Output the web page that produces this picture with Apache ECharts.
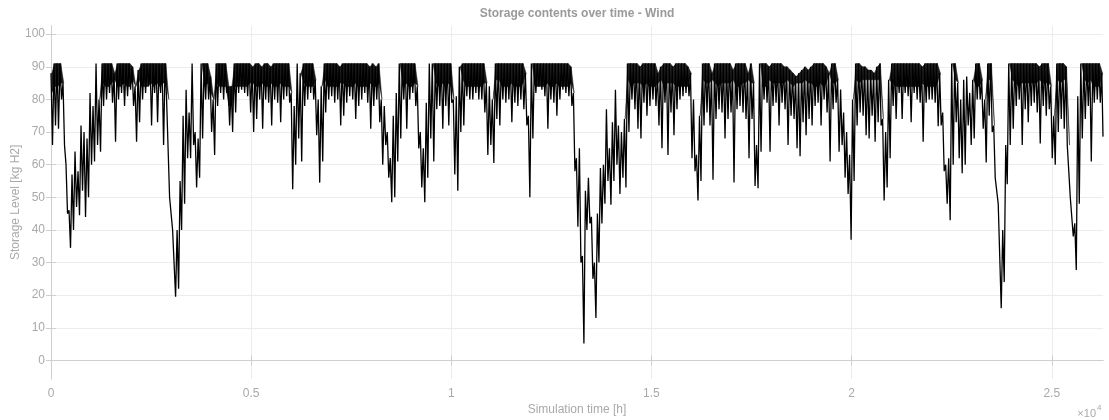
<!DOCTYPE html>
<html>
<head>
<meta charset="utf-8">
<title>Storage contents over time - Wind</title>
<script src="https://cdn.jsdelivr.net/npm/echarts@6/dist/echarts.min.js"></script>
<style>
  html, body { margin: 0; padding: 0; background: #fff; }
  #chart { width: 1109px; height: 420px; }
</style>
</head>
<body>
<div id="chart"></div>
<script>
// Hydrogen storage level, hourly simulation over three years.
// Each 75 h window is summarised by its highest and lowest level,
// plus the level down to which the hourly trace is densely packed
// (null where the trace is sparse, e.g. during long drawdowns).
const BIN_HOURS = 75;
const SIM_HOURS = 26280;

const binHigh = [
  88,91,91,91,85,60,46,57,64,58, 72,70,68,82,78,91,80,91,91,91,
  91,88,91,91,91,91,91,90,84,89, 91,91,91,91,91,91,91,91,91,80,
  50,40,40,55,75,83,76,91,70,68, 91,91,91,87,80,91,91,91,91,
  84,84,91,91,91,91,91,91,90,91, 91,90,91,91,90,91,91,91,91,91,
  91,82,78,91,88,91,91,91,91,86, 80,84,91,91,91,91,91,90,91,91,
  91,91,91,91,91,91,91,90,91,90, 91,80,78,70,62,75,82,91,
  91,91,91,91,91,84,70,65,79,91, 91,91,91,91,91,91,91,80,81,90,
  91,91,91,91,91,91,91,91,85,84, 80,91,91,91,91,91,91,91,91,91,
  91,88,75,91,91,91,91,91,91,91, 91,91,91,91,91,91,90,82,62,
  65,32,52,56,44,30,45,59,60,77, 65,73,83,72,70,74,91,91,91,91,
  90,91,91,91,91,91,88,90,91,91, 91,90,91,91,91,91,90,88,80,63,
  75,91,91,91,88,91,91,91,91,91, 91,89,91,91,91,91,88,91,85,
  66,91,91,91,90,91,91,91,91,90, 90,89,88,87,88,89,90,89,90,91,
  91,91,91,90,88,91,91,86,83,76, 70,63,80,91,91,90,90,89,89,88,
  90,91,74,70,86,91,91,91,91,91, 91,91,91,91,91,90,91,91,
  91,91,91,88,76,60,62,91,91,85, 80,86,87,82,86,91,91,86,80,91,
  91,72,56,48,40,66,91,91,91,91, 91,91,91,91,91,91,90,91,91,91,
  84,75,91,91,91,90,66,50,42,81, 91,91,91,91,91,91,91,88
];

const binLow = [
  66,72,71,80,66,45,34.5,40,47,44.5, 52,44,50,60,61,66,64,78,80,82,
  79,67,80,82,78,81,83,78,67,73, 80,82,84,72,82,73,82,66,80,50,
  40,19.5,22,40,48,62,62,66,53,56, 68,80,80,70,63,78,82,80,82,
  72,70,76,82,83,82,81,76,70,74, 80,71,80,79,72,80,79,73,80,81,
  79,52.5,60,68,61,78,80,82,80,69, 54.5,61,76,80,81,79,80,72,75,79,
  81,80,74,78,80,82,79,71,78,80, 73,60,66,56,48.5,50,61,68,
  80,71,80,82,78,65,53,48.5,56,68, 61,77,78,71,78,72,79,57,52,70,
  72,81,80,80,82,80,80,76,63,66, 60.5,74,72,80,79,80,73,79,78,80,
  77,72,50,68,82,84,83,81,71,80, 79,75,80,83,82,81,78,58,41,
  30,5.2,40,42,25,13,30,42,48,55, 47.7,55,60,51,56,53,70,80,77,71,
  68,79,75,78,80,78,72,65,79,63, 76,69,77,80,81,82,81,62,58,49,
  55,72,76,72,55.4,74,77,76,68,74, 76,54.5,77,78,76,74,62,74,53.5,
  52.8,64,80,79,64,78,79,72,79,77, 66,75,74,65,62.6,73,69,74,72,78,
  79,72,80,76,61,77,79,64,66,56, 51,37,55,72,76,75,69,68,75,67,
  73,72,49,53,62,78,74,82,74,82, 81,73,82,80,79,67,79,80,
  80,79,71.8,72,58,48,43,60,73,62, 57.4,60,72,66,68,80,80,71,60.7,75,
  70,56,48,16,24,54,66,71,78,80, 66,77,73,78,79,76,66.5,78,75,77,
  62,60,70,74,71,66,50,38,27.7,48, 68,74,78,61,79,80,79,68.6
];

const _ = null;
const denseFloor = [
  82,84,84,85,_,_,_,_,_,_, _,_,_,_,_,_,_,85,84,84,
  85,86,84,84,85,84,84,86,_,86, 84,84,84,85,84,85,84,85,85,_,
  _,_,_,_,_,_,_,_,_,_, _,84,85,82,_,85,84,84,84,
  78,78,84,84,84,84,84,85,85,84, 84,85,84,84,85,84,84,85,84,84,
  84,_,_,_,_,85,84,84,84,_, _,_,86,84,84,84,84,85,85,84,
  84,84,85,84,84,84,84,85,84,84, 85,_,_,_,_,_,_,_,
  84,85,84,84,85,_,_,_,_,_, _,85,84,85,84,85,84,_,_,_,
  86,84,84,84,84,84,84,85,_,_, _,86,86,84,84,84,85,84,84,84,
  85,_,_,_,84,84,84,84,85,84, 84,85,84,84,84,84,85,_,_,
  _,_,_,_,_,_,_,_,_,_, _,_,_,_,_,_,86,84,85,85,
  85,84,85,84,84,84,85,86,84,85, 85,85,84,84,84,84,84,_,_,_,
  _,86,85,85,86,85,84,85,85,85, 85,86,84,84,85,85,86,85,_,
  _,_,84,84,86,85,85,85,85,85, 86,85,84,85,85,85,86,85,85,84,
  84,85,84,85,_,85,85,_,_,_, _,_,_,86,85,86,86,86,86,86,
  86,86,_,_,_,85,84,84,84,84, 84,84,84,84,84,85,84,84,
  84,84,85,_,_,_,_,_,86,_, _,_,_,_,_,84,84,_,_,86,
  86,_,_,_,_,_,_,86,85,84, 85,85,85,85,85,85,86,85,85,85,
  _,_,86,85,86,86,_,_,_,_, _,86,85,86,84,84,84,_
];

const xTickValues = [0, 5000, 10000, 15000, 20000, 25000];
const yTickValues = [0, 10, 20, 30, 40, 50, 60, 70, 80, 90, 100];
const Y_MIN = -5.7;
const Y_MAX = 102.6;

// Trace: each window contributes its peak, then its trough half a window later.
const trace = [];
binHigh.forEach((hi, i) => {
  const t0 = i * BIN_HOURS;
  trace.push([t0, hi]);
  trace.push([Math.min(t0 + BIN_HOURS / 2, SIM_HOURS), binLow[i]]);
});

// Densely packed part of the trace, as quads between neighbouring windows:
// [tA, peakA, floorA, tB, peakB, floorB]
const bandSegments = [];
for (let i = 0; i < binHigh.length - 1; i++) {
  if (denseFloor[i] == null && denseFloor[i + 1] == null) continue;
  const tA = i * BIN_HOURS + BIN_HOURS / 4;
  const tB = Math.min((i + 1) * BIN_HOURS + BIN_HOURS / 4, SIM_HOURS);
  const fA = denseFloor[i] == null ? binHigh[i] : denseFloor[i];
  const fB = denseFloor[i + 1] == null ? binHigh[i + 1] : denseFloor[i + 1];
  bandSegments.push([tA, binHigh[i], fA, tB, binHigh[i + 1], fB]);
}

const FONT = '"Liberation Sans", Arial, Helvetica, sans-serif';
const BOX = '#cfcfcf';
const GRIDLINE = '#ececec';
const TEXT = '#a9a9a9';

function boxAxis(extra) {
  return Object.assign({
    type: 'value',
    axisLine: { show: true, lineStyle: { color: BOX, width: 1 } },
    axisTick: { show: true, inside: true, length: 5, lineStyle: { color: BOX } },
    axisLabel: { show: false },
    splitLine: { show: false }
  }, extra);
}

const chart = echarts.init(document.getElementById('chart'), null, { renderer: 'canvas' });

chart.setOption({
  animation: false,
  backgroundColor: '#fff',
  grid: { left: 51, right: 6, top: 25.7, bottom: 41, outerBoundsMode: 'none' },
  xAxis: [
    boxAxis({
      position: 'bottom',
      min: 0, max: SIM_HOURS,
      axisTick: { show: true, inside: true, length: 5, customValues: xTickValues, lineStyle: { color: BOX } },
      axisLabel: {
        show: true, customValues: xTickValues, margin: 9,
        color: TEXT, fontFamily: FONT, fontSize: 12,
        formatter: v => String(v / 10000)
      },
      splitLine: { show: true, lineStyle: { color: GRIDLINE, width: 1 } },
      name: 'Simulation time [h]',
      nameLocation: 'middle',
      nameGap: 25,
      nameMoveOverlap: false,
      nameTextStyle: { color: TEXT, fontFamily: FONT, fontSize: 12 }
    }),
    boxAxis({
      position: 'top',
      min: 0, max: SIM_HOURS,
      axisTick: { show: true, inside: true, length: 5, customValues: xTickValues, lineStyle: { color: BOX } }
    })
  ],
  yAxis: [
    boxAxis({
      position: 'left',
      min: Y_MIN, max: Y_MAX,
      axisTick: { show: true, inside: true, length: 5, customValues: yTickValues, lineStyle: { color: BOX } },
      axisLabel: {
        show: true, customValues: yTickValues, margin: 6,
        color: TEXT, fontFamily: FONT, fontSize: 12
      },
      splitLine: { show: true, lineStyle: { color: GRIDLINE, width: 1 } },
      name: 'Storage Level [kg H2]',
      nameLocation: 'middle',
      nameGap: 29,
      nameMoveOverlap: false,
      nameTextStyle: { color: TEXT, fontFamily: FONT, fontSize: 12 }
    }),
    boxAxis({
      position: 'right',
      min: Y_MIN, max: Y_MAX,
      axisTick: { show: true, inside: true, length: 5, customValues: yTickValues, lineStyle: { color: BOX } }
    })
  ],
  graphic: [
    {
      type: 'text', x: 577, y: 14,
      style: {
        text: 'Storage contents over time - Wind',
        fill: '#9a9a9a', font: 'bold 12px ' + FONT,
        align: 'center', verticalAlign: 'middle'
      }
    },
    {
      type: 'text', x: 1096, y: 414,
      style: { text: '×10', fill: TEXT, font: '11px ' + FONT, align: 'right', verticalAlign: 'middle' }
    },
    {
      type: 'text', x: 1097, y: 408,
      style: { text: '4', fill: TEXT, font: '8px ' + FONT, align: 'left', verticalAlign: 'middle' }
    }
  ],
  series: [
    {
      name: 'dense band',
      type: 'custom',
      data: bandSegments,
      encode: { x: [0, 3], y: [1, 2, 4, 5] },
      clip: true,
      silent: true,
      z: 1,
      renderItem: (params, api) => {
        const a1 = api.coord([api.value(0), api.value(1)]);
        const a2 = api.coord([api.value(0), api.value(2)]);
        const b1 = api.coord([api.value(3), api.value(4)]);
        const b2 = api.coord([api.value(3), api.value(5)]);
        return {
          type: 'polygon',
          shape: { points: [a1, b1, b2, a2] },
          style: { fill: '#1c1c1c', stroke: '#1c1c1c', lineWidth: 0.5 }
        };
      }
    },
    {
      name: 'Storage level',
      type: 'line',
      data: trace,
      symbol: 'none',
      showSymbol: false,
      sampling: null,
      clip: true,
      lineStyle: { color: '#000', width: 1.3 },
      z: 2
    }
  ]
});
</script>
</body>
</html>
